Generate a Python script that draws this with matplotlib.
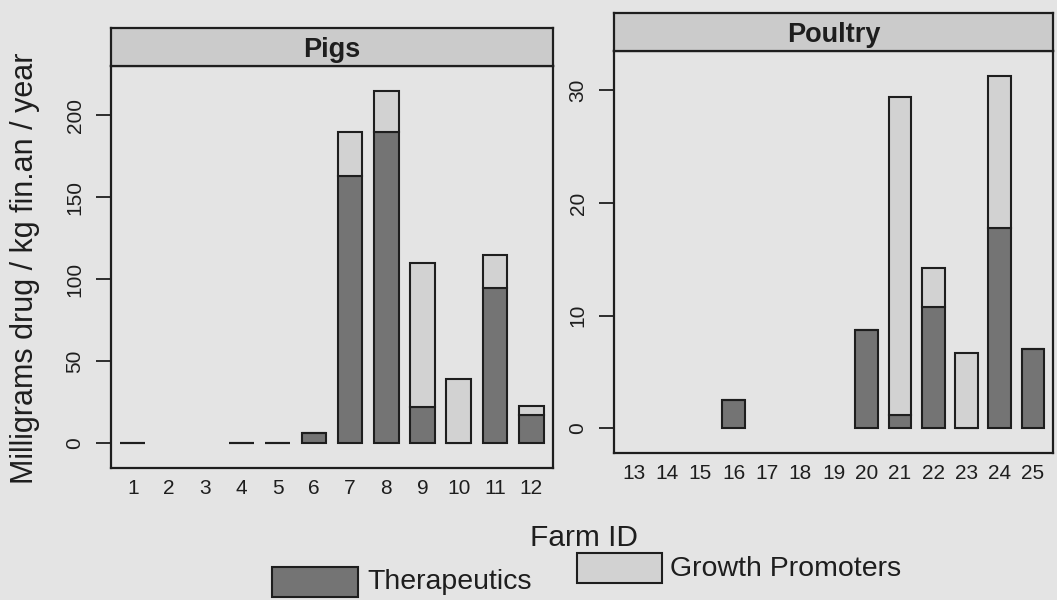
import numpy as np
import matplotlib
matplotlib.use("Agg")
import matplotlib.pyplot as plt
from matplotlib.patches import Rectangle

# Antimicrobial use per farm (mg drug / kg finished animal / year); NaN = no data
pig_farms = [str(i) for i in range(1, 13)]
pig_therapeutic = [0, np.nan, np.nan, 0, 0, 6, 163, 190, 22, 0, 95, 17]
pig_growth = [0, np.nan, np.nan, 0, 0, 0, 27, 25, 88, 39, 20, 6]

poultry_farms = [str(i) for i in range(13, 26)]
poultry_therapeutic = [np.nan, np.nan, np.nan, 2.5, np.nan, np.nan, np.nan,
                       8.7, 1.2, 10.8, 0, 17.8, 7.0]
poultry_growth = [np.nan, np.nan, np.nan, 0, np.nan, np.nan, np.nan,
                  0, 28.2, 3.4, 6.7, 13.5, 0]

pig_ticks = [0, 50, 100, 150, 200]
poultry_ticks = [0, 10, 20, 30]

series_labels = ["Therapeutics", "Growth Promoters"]

DARK = "#747474"
LIGHT = "#d2d2d2"
STRIP = "#cbcbcb"
PAPER = "#e4e4e4"
INK = "#1e1e1e"

plt.rcParams["font.family"] = ["Liberation Sans", "DejaVu Sans"]

W, H = 1057, 600
fig = plt.figure(figsize=(W / 100, H / 100), dpi=100, facecolor=PAPER)


def fx(px):
    return px / W


def fy(py):
    return 1 - py / H


def panel(x0, x1, y_top, y_bot, strip_top, title, farms, thera, growth, ticks):
    ax = fig.add_axes([fx(x0), fy(y_bot), fx(x1 - x0), (y_bot - y_top) / H])
    ax.set_facecolor("none")
    pos = np.arange(1, len(farms) + 1)
    thera = np.asarray(thera, float)
    growth = np.asarray(growth, float)
    ok = ~np.isnan(thera)
    ax.bar(pos[ok], thera[ok], width=0.68, color=DARK, edgecolor=INK,
           linewidth=1.5, zorder=2)
    ax.bar(pos[ok], growth[ok], bottom=thera[ok], width=0.68, color=LIGHT,
           edgecolor=INK, linewidth=1.5, zorder=2)
    top = np.nanmax(thera + growth)
    ax.set_ylim(-0.07 * top, 1.07 * top)
    ax.set_xlim(0.4, len(farms) + 0.6)
    ax.set_xticks(pos)
    ax.set_xticklabels(farms)
    ax.set_yticks(ticks)
    ax.set_yticklabels([str(t) for t in ticks], rotation=90, va="center")
    ax.tick_params(axis="x", length=0, pad=8, labelsize=15, colors=INK)
    ax.tick_params(axis="y", length=11, width=1.3, pad=8, labelsize=15,
                   colors=INK)
    for s in ax.spines.values():
        s.set_linewidth(1.6)
        s.set_color(INK)

    sx = fig.add_axes([fx(x0), fy(y_top), fx(x1 - x0), (y_top - strip_top) / H])
    sx.set_facecolor(STRIP)
    sx.set_xticks([])
    sx.set_yticks([])
    for s in sx.spines.values():
        s.set_linewidth(1.6)
        s.set_color(INK)
    sx.text(0.5, 0.42, title, transform=sx.transAxes, ha="center", va="center",
            fontsize=19.5, fontweight="bold", color=INK)
    return ax


panel(111, 553, 66, 468, 28, "Pigs", pig_farms, pig_therapeutic, pig_growth,
      pig_ticks)
panel(614, 1053, 51, 453, 13, "Poultry", poultry_farms, poultry_therapeutic,
      poultry_growth, poultry_ticks)

fig.text(fx(25), fy(268), "Milligrams drug / kg fin.an / year", rotation=90,
         ha="center", va="center", fontsize=22, color=INK)
fig.text(fx(584), fy(546), "Farm ID", ha="center", va="baseline",
         fontsize=21.5, color=INK)

# legend keys
keys = [(272, 567, 358, 597, DARK, 367, 589),
        (577, 553, 662, 583, LIGHT, 670, 576)]
for (x0, y0, x1, y1, col, tx, ty), lab in zip(keys, series_labels):
    fig.add_artist(Rectangle((fx(x0), fy(y1)), fx(x1 - x0), (y1 - y0) / H,
                             transform=fig.transFigure, facecolor=col,
                             edgecolor=INK, linewidth=1.5))
    fig.text(fx(tx), fy(ty), lab, ha="left", va="baseline", fontsize=20.5,
             color=INK)

fig.savefig("out.png", dpi=100, facecolor=PAPER)
